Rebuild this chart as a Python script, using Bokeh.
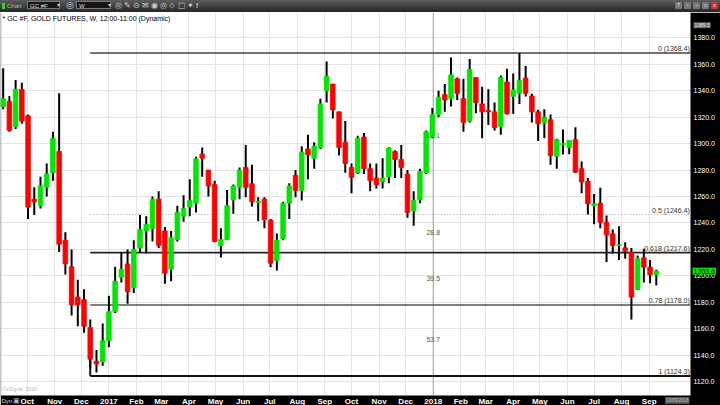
import pandas as pd
from bokeh.plotting import figure
from bokeh.layouts import column
from bokeh.models import (FixedTicker, Range1d, Label, PrintfTickFormatter,
                          ColumnDataSource, Div, BoxAnnotation)
from bokeh.core.properties import value
from bokeh.embed import file_html
from bokeh.resources import INLINE

# ---------------- data (weekly candles, GC #F) ----------------
week_start = "2016-09-04"
opens = [1328, 1332, 1313, 1341, 1321, 1258, 1253, 1267, 1278, 1294,
         1227, 1207, 1184, 1182, 1161, 1135.5, 1135, 1151, 1173, 1199,
         1209, 1191, 1221, 1234, 1236, 1258, 1234, 1205, 1227.5, 1245,
         1252, 1255, 1292, 1280, 1269, 1223, 1227.5, 1257.5, 1267, 1282,
         1269.6, 1255.5, 1258, 1242, 1211.6, 1228, 1255, 1276, 1264.6, 1296,
         1289, 1297, 1340, 1345, 1324, 1301, 1282, 1278, 1305, 1281,
         1274, 1271.4, 1275, 1294, 1288, 1277, 1249, 1257.5, 1278, 1305,
         1322, 1337, 1334, 1349, 1334, 1317, 1350, 1330, 1325, 1324,
         1313, 1346.5, 1335.6, 1338, 1349.5, 1336, 1324, 1316, 1318, 1290.5,
         1299.3, 1297, 1303, 1281, 1271.6, 1253, 1255, 1240.6, 1231.8, 1223,
         1221.2, 1218, 1189.7, 1213.7, 1206.6, 1200.8]
highs = [1357, 1336, 1348, 1346, 1322, 1267, 1275, 1285, 1309, 1338,
         1233, 1220, 1197, 1190, 1167, 1144, 1164, 1185, 1207, 1218,
         1220, 1227, 1246, 1245, 1260, 1264, 1237, 1234, 1253, 1261,
         1273, 1290, 1297, 1280, 1272, 1236, 1265, 1269, 1282, 1299,
         1284, 1259.5, 1259.5, 1243, 1232, 1256, 1270, 1280, 1298, 1306.6,
         1301, 1334, 1362, 1345, 1324, 1317, 1285, 1306, 1308, 1285,
         1285, 1289, 1297.3, 1295, 1299, 1280, 1264, 1281, 1310, 1327,
         1340, 1345, 1365, 1350, 1349, 1364, 1350, 1343, 1341, 1331,
         1351.5, 1356.5, 1353, 1368.4, 1358.6, 1337.6, 1325.5, 1326, 1322, 1303.6,
         1310.7, 1302.4, 1312.4, 1286.5, 1274, 1262, 1266.6, 1245.6, 1235, 1237.6,
         1225.5, 1221, 1215.4, 1220.5, 1212, 1204.6]
lows = [1326, 1309, 1311, 1315, 1243, 1246, 1251, 1260, 1272, 1218,
        1201, 1170, 1162, 1157, 1130, 1127, 1132, 1146, 1172, 1195,
        1179, 1187, 1218, 1217, 1226, 1221, 1194, 1196, 1226, 1241,
        1245, 1248, 1275, 1260, 1225.5, 1214, 1227, 1247, 1258, 1259.5,
        1252.5, 1241.4, 1236, 1206.6, 1204, 1227, 1243, 1259.5, 1257, 1273,
        1281, 1296, 1331, 1319, 1291, 1278, 1262.5, 1277, 1277, 1264,
        1266, 1266, 1270, 1274, 1274, 1244, 1238, 1255, 1277, 1304,
        1320, 1324, 1328, 1333, 1309, 1316, 1323, 1304, 1314, 1310,
        1306.6, 1322, 1322.5, 1330, 1335.6, 1316, 1302, 1304, 1284, 1281,
        1291.8, 1292, 1277.7, 1262.5, 1246.4, 1239, 1236, 1210.4, 1216.7, 1212,
        1213, 1167, 1189.5, 1195, 1194.5, 1192.8]
closes = [1334, 1310, 1341, 1317, 1252, 1256, 1268, 1277, 1304, 1224,
          1209, 1178, 1178, 1162, 1137, 1133.5, 1151, 1173, 1196, 1205,
          1188, 1220, 1235, 1239, 1258, 1223, 1202, 1229, 1248, 1251,
          1257, 1288.5, 1289, 1268, 1226, 1227.5, 1253, 1268, 1280, 1267,
          1256, 1256.2, 1242.4, 1209.6, 1227, 1255, 1268, 1264.6, 1293.5, 1291.5,
          1298, 1330, 1351, 1325.5, 1297, 1285, 1274.6, 1304, 1281, 1272,
          1269, 1274, 1296.6, 1288, 1282, 1248, 1257, 1279, 1309, 1322,
          1335, 1333, 1352, 1338, 1316, 1356, 1331, 1324, 1324, 1312,
          1349.7, 1322.5, 1340.6, 1347.7, 1338, 1324, 1315, 1320, 1291, 1303,
          1300, 1302.4, 1278.4, 1271, 1254.5, 1254.5, 1240.6, 1231, 1223, 1223.5,
          1218.7, 1184, 1213, 1206.6, 1200.8, 1203.6]

month_labels = ["Oct", "Nov", "Dec", "2017", "Feb", "Mar", "Apr", "May", "Jun", "Jul",
                "Aug", "Sep", "Oct", "Nov", "Dec", "2018", "Feb", "Mar", "Apr", "May",
                "Jun", "Jul", "Aug", "Sep"]
price_ticks = [1120, 1140, 1160, 1180, 1200, 1220, 1240, 1260, 1280, 1300,
               1320, 1340, 1360, 1380]

fib_ratios = ["0", "0.5", "0.618", "0.78", "1"]
fib_levels = [1368.4, 1246.4, 1217.6, 1178.0, 1124.3]
fib_start = "2016-12-11"
time_ratios = ["16.1", "28.8", "39.5", "53.7"]
time_ratio_prices = [1306, 1233, 1198, 1152]
time_ratio_date = "2018-01-01"
last_price = 1203.6
cursor_price = 1389.5
footer_date = "10/09/2018"

# ---------------- layout constants ----------------
FONT = "Liberation Sans"
W, H = 720, 405
TOOLBAR_H = 12
RB, BB = 30, 10
PH = H - TOOLBAR_H
FW, FH = W - RB, PH - BB

# ---------------- toolbar (window chrome) ----------------
def span(left, top, text="", extra=""):
    return (f'<span style="position:absolute;left:{left}px;top:{top}px;'
            f'white-space:nowrap;{extra}">{text}</span>')

icons = ["\u25ce", "\u270e", "\u229d", "\u2709", "\u25c9", "\u25ce", "\u2b26", "\u25a2", "\u2726", "f"]
bar = "".join([
    span(2, 3, "", "width:3px;height:6px;background:#33cc33"),
    span(7, 2, "Chart", "color:#bbbbbb"),
    span(27, 1, "GC #F", "width:33px;height:8px;line-height:8px;padding-left:2px;"
                         "background:#141414;border:1px solid #777;color:#e0e0e0"),
    span(57, 1, "\u25be", "color:#ccc;line-height:9px"),
    span(66, 0, "\u25ce", "font-size:9px;color:#ccc;line-height:11px"),
    span(76, 1, "W", "width:35px;height:8px;line-height:8px;padding-left:2px;"
                     "background:#141414;border:1px solid #777;color:#e0e0e0"),
    span(108, 1, "\u25be", "color:#ccc;line-height:9px"),
] + [span(115 + 9 * i, 0, ic, "font-size:8px;color:#d0d0d0;line-height:11px")
     for i, ic in enumerate(icons)] + [
    span(675 + 9 * i, 2, s, "width:7px;height:7px;line-height:7px;text-align:center;"
                            "font-size:5px;background:#777;color:#eee;border-radius:1px")
    for i, s in enumerate(["?", "\u25ab", "\u2013", "\u25a1"])] + [
    span(711, 2, "x", "width:7px;height:7px;line-height:7px;text-align:center;"
                      "font-size:6px;background:#d03030;color:#fff;border-radius:1px")])

toolbar = Div(text=f'<div style="position:relative;width:{W}px;height:{TOOLBAR_H}px;'
                   f'overflow:hidden;background:linear-gradient(#5c5c5c,#262626);'
                   f'font-family:\'{FONT}\';font-size:6px">{bar}</div>',
              width=W, height=TOOLBAR_H, margin=0)

# ---------------- figure ----------------
DAY = 86400000
def ms(t):
    return pd.Timestamp(t).value / 1e6

dates = pd.date_range(week_start, periods=len(opens), freq="7D")
x0 = ms("2016-09-01")
x1 = ms("2018-10-17 12:00")          # right edge of the price area
x_full = x1 + (x1 - x0) * RB / FW     # price-scale column to the right
y0, y1 = 1109.6, 1399.1              # price area
y_full = y0 - (y1 - y0) * BB / FH     # date band below

p = figure(width=W, height=PH, x_axis_type="datetime", y_axis_location="right",
           x_range=Range1d(x0, x_full), y_range=Range1d(y_full, y1),
           output_backend="svg", toolbar_location=None,
           min_border_left=0, min_border_right=0, min_border_top=0, min_border_bottom=0,
           border_fill_color="black", background_fill_color="white",
           outline_line_color=None, margin=0)
p.title.visible = False

month_ticks = pd.date_range("2016-10-01", periods=len(month_labels), freq="MS")
tick_ms = [int(t.value // 10**6) for t in month_ticks]

for ax in (p.xaxis[0], p.yaxis[0]):
    ax.major_tick_line_color = None
    ax.minor_tick_line_color = None
    ax.major_tick_out = 0
    ax.major_tick_in = 0
    ax.minor_tick_out = 0
    ax.minor_tick_in = 0
    ax.axis_line_color = None
    ax.axis_label = None
    ax.major_label_text_color = "white"
    ax.major_label_text_font = FONT

xa = p.xaxis[0]
xa.ticker = FixedTicker(ticks=tick_ms)
xa.major_label_overrides = {t: lab for t, lab in zip(tick_ms, month_labels)}
xa.major_label_text_font_size = "8px"
xa.major_label_text_font_style = "bold"
xa.major_label_standoff = 1
xa.fixed_location = y0

ya = p.yaxis[0]
ya.ticker = FixedTicker(ticks=price_ticks)
ya.formatter = PrintfTickFormatter(format="%.1f")
ya.major_label_text_font_size = "7px"
ya.major_label_standoff = 3
ya.fixed_location = x1

p.xgrid.ticker = FixedTicker(ticks=tick_ms)
p.ygrid.ticker = FixedTicker(ticks=price_ticks)
p.xgrid.grid_line_color = "#e4e4e4"
p.ygrid.grid_line_color = "#e4e4e4"

# black price-scale column and date band
p.add_layout(BoxAnnotation(left=x1, fill_color="black", fill_alpha=1, line_color=None,
                           level="underlay"))
p.add_layout(BoxAnnotation(top=y0, fill_color="black", fill_alpha=1, line_color=None,
                           level="underlay"))
# left edge of the chart window
p.segment(x0=[x0], y0=[y0], x1=[x0], y1=[y1], line_color="#888888", line_width=1.5)

# time-ratio vertical line and numbers (behind candles)
p.segment(x0=[ms(time_ratio_date)], y0=[y0], x1=[ms(time_ratio_date)], y1=[y1],
          line_color="#a0a0a0", line_width=1)
p.text(x=[ms(time_ratio_date)] * len(time_ratios), y=time_ratio_prices,
       text=time_ratios, text_font=value(FONT), text_font_size="7px",
       text_color="#555555", text_align="center", text_baseline="middle")

# fib lines
fstart = ms(fib_start)
fib_styles = [("#444444", 1.5, "solid"), ("#aaaaaa", 1, "1 2"), ("#222222", 1.8, "solid"),
              ("#555555", 1.5, "solid"), ("#111111", 2, "solid")]
for lvl, (col, lw, dash) in zip(fib_levels, fib_styles):
    p.segment(x0=[fstart], y0=[lvl], x1=[x1], y1=[lvl], line_color=col,
              line_width=lw, line_dash=dash)
p.segment(x0=[fstart], y0=[fib_levels[-1]], x1=[fstart], y1=[1137],
          line_color="#111111", line_width=2)

p.text(x=[x1 - 0.8 * DAY] * len(fib_levels), y=fib_levels,
       text=[f"{r} ({v:.1f})" for r, v in zip(fib_ratios, fib_levels)],
       text_font=value(FONT), text_font_size="7px", text_color="#333333",
       text_align="right", text_baseline="bottom", y_offset=-1)

# candles
src = ColumnDataSource(dict(
    x=dates, o=opens, h=highs, l=lows, c=closes,
    top=[max(a, b) for a, b in zip(opens, closes)],
    bot=[min(a, b) for a, b in zip(opens, closes)],
    col=["#00e600" if c >= o else "#ff0000" for o, c in zip(opens, closes)]))
p.segment(x0="x", y0="l", x1="x", y1="h", source=src, line_color="black", line_width=2)
p.vbar(x="x", width=5.2 * DAY, top="top", bottom="bot", source=src,
       fill_color="col", line_color="col", line_width=0.8)


def note(x, y, text, size="7px", color="#dddddd", bg=None, pad=1, xu="screen",
         xoff=0, align="left"):
    p.add_layout(Label(x=x, y=y, x_units=xu, y_units="data", text=text, x_offset=xoff,
                       text_font=FONT, text_font_size=size, text_color=color,
                       text_baseline="middle", text_align=align,
                       background_fill_color=bg, padding=pad))


band_mid = (y0 + y_full) / 2
# in-frame texts
note(2, 1394.6, "* GC #F, GOLD FUTURES, W, 12:00-11:00 (Dynamic)", size="7px",
     color="black", pad=0)
note(2, 1114.5, "\u00a9eSignal, 2018", size="5px", color="#bbbbbb", pad=0)
note(1, band_mid, "Dyn", size="6px", color="#dddddd", pad=0)
note(12, band_mid, "\u25a3", size="7px", color="#bbbbbb", pad=0)
note(x1, band_mid, footer_date, size="4.5px", color="#cccccc", bg="#555555",
     xu="data", xoff=-1, align="right")

# last price tag and cursor tag on the price column
note(x1, last_price, f"{last_price:.1f}", size="7px", color="black",
     bg="#00e600", xu="data", xoff=2)
note(x1, cursor_price, f"{cursor_price:.1f}", size="5px", color="#eeeeee",
     bg="#666666", xu="data", xoff=3)

open("out.html", "w").write(file_html(column(toolbar, p, spacing=0), INLINE))
